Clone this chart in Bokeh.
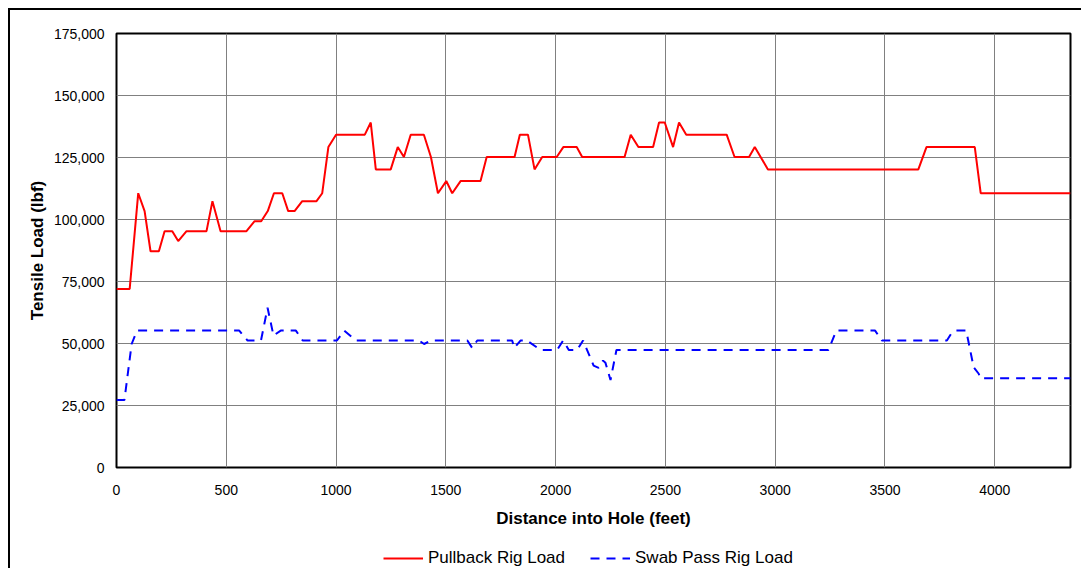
from bokeh.plotting import figure
from bokeh.layouts import column
from bokeh.models import (Range1d, SingleIntervalTicker, NumeralTickFormatter,
                          Legend, LegendItem)
from bokeh.embed import file_html
from bokeh.resources import INLINE

# ---- data ----
pull_x = [0, 60, 99, 128, 155, 193, 219, 254, 281, 319, 410, 437, 474, 592, 629,
          659, 689, 717, 755, 782, 811, 846, 911, 937, 965, 1000, 1131, 1158, 1181,
          1249, 1281, 1309, 1340, 1400, 1432, 1464, 1502, 1529, 1567, 1658, 1686,
          1813, 1837, 1874, 1904, 1939, 2005, 2035, 2096, 2121, 2314, 2342, 2377,
          2444, 2471, 2497, 2535, 2562, 2595, 2779, 2815, 2881, 2907, 2967, 3652,
          3689, 3909, 3936, 4345]
pull_y = [72000, 72000, 110600, 103400, 87200, 87200, 95300, 95300, 91300, 95300,
          95300, 107400, 95300, 95300, 99300, 99300, 103400, 110600, 110600, 103400,
          103400, 107400, 107400, 110600, 129200, 134200, 134200, 139100, 120200,
          120200, 129200, 125200, 134200, 134200, 125200, 110600, 115500, 110600,
          115500, 115500, 125200, 125200, 134200, 134200, 120200, 125200, 125200,
          129200, 129200, 125200, 125200, 134200, 129200, 129200, 139100, 139100,
          129200, 139100, 134200, 134200, 125200, 125200, 129200, 120200, 120200,
          129200, 129200, 110600, 110600]

swab_x = [0, 36, 69, 93, 559, 597, 658, 688, 715, 748, 817, 848, 1004, 1037, 1090,
          1378, 1401, 1431, 1598, 1620, 1643, 1802, 1812, 1840, 1870, 1931, 2007,
          2034, 2060, 2098, 2125, 2173, 2196, 2216, 2227, 2250, 2277, 3243, 3278,
          3455, 3486, 3782, 3802, 3820, 3870, 3904, 3927, 3934, 4345]
swab_y = [27200, 27200, 49800, 55200, 55200, 51200, 51200, 64400, 53200, 55200,
          55200, 51200, 51200, 55200, 51200, 51200, 49800, 51200, 51200, 48200,
          51200, 51200, 48200, 51200, 51200, 47400, 47400, 51200, 47400, 47400,
          51200, 41100, 40200, 43100, 42200, 35300, 47400, 47400, 55200, 55200,
          51200, 51200, 54000, 55200, 55200, 40400, 37800, 36000, 36000]

series_names = ["Pullback Rig Load", "Swab Pass Rig Load"]
x_title = "Distance into Hole (feet)"
y_title = "Tensile Load (lbf)"

FONT = "Liberation Sans"
RED = "#ff0000"
BLUE = "#0000ff"
DASH = "9 7"

p = figure(width=1073, height=533, output_backend="svg", toolbar_location=None,
           x_range=Range1d(0, 4345), y_range=Range1d(0, 175000),
           min_border_left=106, min_border_top=23, min_border_right=13,
           min_border_bottom=76,
           styles={"margin-left": "8px", "margin-top": "8px",
                   "border-left": "2px solid black", "border-top": "2px solid black"})

p.outline_line_color = "black"
p.outline_line_width = 2
p.background_fill_color = "white"
p.border_fill_color = "white"

p.line(pull_x, pull_y, line_color=RED, line_width=2)
p.line(swab_x, swab_y, line_color=BLUE, line_width=2, line_dash=DASH)

# axes
p.xaxis.ticker = SingleIntervalTicker(interval=500)
p.yaxis.ticker = SingleIntervalTicker(interval=25000)
p.yaxis.formatter = NumeralTickFormatter(format="0,0")
for ax in (p.xaxis[0], p.yaxis[0]):
    ax.axis_line_color = None
    ax.major_tick_line_color = None
    ax.minor_tick_line_color = None
    ax.major_tick_in = 0
    ax.major_tick_out = 0
    ax.major_label_text_font = FONT
    ax.major_label_text_font_size = "14px"
    ax.major_label_text_color = "black"
    ax.axis_label_text_font = FONT
    ax.axis_label_text_font_size = "17px"
    ax.axis_label_text_font_style = "bold"
    ax.axis_label_text_color = "black"
p.xaxis.axis_label = x_title
p.yaxis.axis_label = y_title
p.xaxis.major_label_standoff = 13
p.xaxis.axis_label_standoff = 11
p.yaxis.major_label_standoff = 8
p.yaxis.axis_label_standoff = 4

p.xgrid.grid_line_color = "#808080"
p.ygrid.grid_line_color = "#808080"
p.xgrid.grid_line_width = 1
p.ygrid.grid_line_width = 1

# legend strip (separate small figure so the legend is not clipped)
p2 = figure(width=1073, height=27, output_backend="svg", toolbar_location=None,
            x_range=Range1d(0, 1), y_range=Range1d(0, 1),
            x_axis_type=None, y_axis_type=None,
            min_border_left=0, min_border_right=0, min_border_top=0,
            min_border_bottom=0,
            styles={"margin-left": "8px", "border-left": "2px solid black"})
p2.outline_line_color = None
p2.grid.visible = False
p2.background_fill_color = "white"
p2.border_fill_color = "white"
# legend-only renderers: their points lie outside the strip's visible range
l1 = p2.line(x=[-10, -5], y=[-10, -10], line_color=RED, line_width=2)
l2 = p2.line(x=[-10, -5], y=[-10, -10], line_color=BLUE, line_width=2,
             line_dash=DASH)

legend = Legend(items=[LegendItem(label=series_names[0], renderers=[l1]),
                       LegendItem(label=series_names[1], renderers=[l2])],
                orientation="horizontal", location=(267, 0),
                padding=0, margin=0, spacing=25, label_standoff=5,
                glyph_width=40, glyph_height=20, label_height=20,
                border_line_color=None, background_fill_alpha=0,
                label_text_font=FONT, label_text_font_size="17px",
                label_text_color="black")
p2.add_layout(legend, "center")

layout = column(p, p2, spacing=0)
open("out.html", "w").write(file_html(layout, INLINE))
